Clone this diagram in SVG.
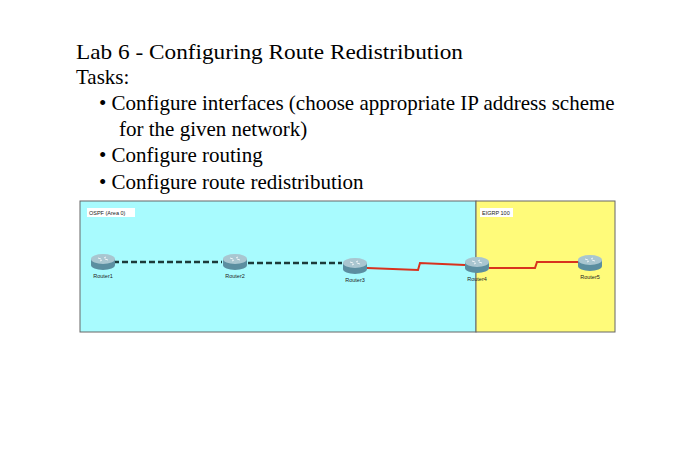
<svg xmlns="http://www.w3.org/2000/svg" width="700" height="475" viewBox="0 0 700 475">
<style>
.t{font-family:"Liberation Serif",serif;font-size:21px;fill:#000}
.l{font-family:"Liberation Sans",sans-serif;font-size:5.5px;fill:#222}
.dash{stroke:#1c3a3a;stroke-width:2.5;stroke-dasharray:6,3;fill:none}
.ser{stroke:#d8321e;stroke-width:2;fill:none}
</style>
<defs>
<g id="rt">
<path d="M-12,-1 v6 a12,5 0 0 0 24,0 v-6z" fill="#5b8ea0"/>
<ellipse cx="0" cy="-1" rx="12" ry="5" fill="#a9c6d0"/>
<path d="M-5,-2 l3,1 M5,0 l-3,-1 M-3,1 l2,-1 M3,-3 l-2,1" stroke="#fff" stroke-width="0.8"/>
</g>
</defs>
<rect width="700" height="475" fill="#fff"/>
<text class="t" x="76" y="59" font-size="22" textLength="387" lengthAdjust="spacingAndGlyphs">Lab 6 - Configuring Route Redistribution</text>
<text class="t" x="76" y="84">Tasks:</text>
<text class="t" x="99" y="110">• Configure interfaces (choose appropriate IP address scheme</text>
<text class="t" x="119" y="136">for the given network)</text>
<text class="t" x="99" y="162">• Configure routing</text>
<text class="t" x="99" y="189">• Configure route redistribution</text>
<rect x="80" y="201" width="396" height="131" fill="#a8fbfe" stroke="#666" stroke-width="1"/>
<rect x="476" y="201" width="139" height="131" fill="#fffb7a" stroke="#666" stroke-width="1"/>
<rect x="87" y="208" width="48" height="9" fill="#fff"/>
<text class="l" x="89" y="215">OSPF (Area 0)</text>
<rect x="480" y="208" width="33" height="9" fill="#fff"/>
<text class="l" x="482" y="215">EIGRP 100</text>
<g id="connectors">
<path class="dash" d="M113,262 H222"/>
<path class="dash" d="M248,263 H342"/>
<path class="ser" d="M367,268 L418,270 L420,263 L465,265"/>
<path class="ser" d="M489,268 L535,268 L537,262 L578,262"/>
</g>
<g id="router1"><use href="#rt" x="103" y="260"/><text class="l" x="103" y="278" text-anchor="middle">Router1</text></g>
<g id="router2"><use href="#rt" x="235" y="260"/><text class="l" x="235" y="278" text-anchor="middle">Router2</text></g>
<g id="router3"><use href="#rt" x="355" y="264"/><text class="l" x="355" y="282" text-anchor="middle">Router3</text></g>
<g id="router4"><use href="#rt" x="477" y="263"/><text class="l" x="477" y="281" text-anchor="middle">Router4</text></g>
<g id="router5"><use href="#rt" x="590" y="261"/><text class="l" x="590" y="279" text-anchor="middle">Router5</text></g>
</svg>
